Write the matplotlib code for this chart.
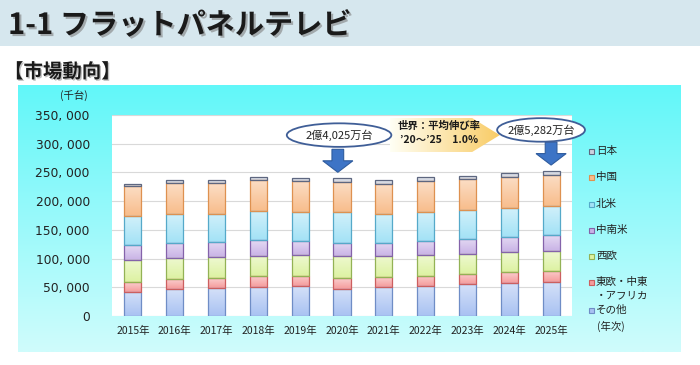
import numpy as np
import matplotlib
matplotlib.use('Agg')
import matplotlib.pyplot as plt
import matplotlib.patheffects as pe
from matplotlib.patches import Rectangle, Ellipse, FancyArrow, Polygon
from matplotlib.colors import to_rgb

plt.rcParams['font.family'] = ['Noto Sans CJK JP', 'DejaVu Sans']

# data (千台), stacked bottom -> top
years = ['2015年', '2016年', '2017年', '2018年', '2019年', '2020年',
         '2021年', '2022年', '2023年', '2024年', '2025年']
sonota = [42200, 46800, 48600, 50900, 51400, 47400, 50300, 52000, 54900, 57200, 58400]
touou = [16800, 16800, 17300, 17900, 18500, 17900, 17300, 18500, 18500, 19100, 20800]
seiou = [38700, 37600, 36400, 35800, 35900, 39300, 37000, 35900, 34700, 34700, 34100]
chunanbei = [26000, 26500, 26600, 27800, 24800, 23100, 23100, 24800, 26600, 27200, 27700]
hokubei = [49700, 49800, 49100, 49600, 49700, 52600, 49800, 50300, 49700, 49100, 49800]
chugoku = [52600, 54300, 53200, 55000, 54400, 53200, 53100, 53800, 53800, 55500, 54900]
nihon = [4600, 5800, 5200, 5200, 5800, 6750, 5800, 6300, 6300, 5800, 7100]

series = [
    ('その他', sonota, '#A9C2F2', '#6F8DC6'),
    ('東欧・中東\n・アフリカ', touou, '#F59C9C', '#CC5F5F'),
    ('西欧', seiou, '#DDF2A2', '#93B255'),
    ('中南米', chunanbei, '#C9B3E6', '#8463AA'),
    ('北米', hokubei, '#A3E2F6', '#55A9C9'),
    ('中国', chugoku, '#F8BD8C', '#DE9150'),
    ('日本', nihon, '#CDD2DE', '#5E6780'),
]

callouts = [(5, '2億4,025万台'), (10, '2億5,282万台')]

W, H = 700, 365
fig = plt.figure(figsize=(7, 3.65), dpi=100)

def fr(x0, y0, x1, y1):
    return [x0 / W, 1 - y1 / H, (x1 - x0) / W, (y1 - y0) / H]

# background layer
bg = fig.add_axes([0, 0, 1, 1], zorder=0)
bg.set_xlim(0, W)
bg.set_ylim(H, 0)
bg.axis('off')
bg.add_patch(Rectangle((0, 0), W, 46, color='#D6E7EE', lw=0))
grad = np.linspace(0, 1, 64)[:, None, None]
top = np.array(to_rgb('#62F7F9'))
bot = np.array(to_rgb('#CFFCFC'))
bg.imshow(top * (1 - grad) + bot * grad, extent=[18, 681, 352, 85],
          aspect='auto', interpolation='bilinear')
bg.set_xlim(0, W)
bg.set_ylim(H, 0)
bg.text(8, 25, '1-1 フラットパネルテレビ', fontsize=21, fontweight='bold',
        color='#1A1A1A', va='center', ha='left',
        path_effects=[pe.withSimplePatchShadow(offset=(1.5, -1.5),
                                               shadow_rgbFace='#808080', alpha=0.6)])
bg.text(4, 72, '【市場動向】', fontsize=14, fontweight='bold', color='#1A1A1A',
        va='center', ha='left',
        path_effects=[pe.withSimplePatchShadow(offset=(1, -1),
                                               shadow_rgbFace='#808080', alpha=0.5)])
bg.text(74, 96, '(千台)', fontsize=7.5, ha='center', va='center', color='#222222')
bg.text(611, 326, '(年次)', fontsize=7.5, ha='center', va='center', color='#222222')

# chart
ax = fig.add_axes(fr(112, 115, 572, 316), zorder=1)
x = np.arange(len(years))
bottom = np.zeros(len(years))
for name, vals, fc, ec in series:
    bars = ax.bar(x, vals, width=0.41, bottom=bottom, facecolor='none',
                  edgecolor=ec, linewidth=0.9, zorder=3)
    c = np.array(to_rgb(fc))
    t = np.linspace(0, 1, 32)[:, None, None]
    img = c * (1 - 0.5 * t) + 0.5 * t
    for b in bars:
        im = ax.imshow(img, extent=[b.get_x(), b.get_x() + b.get_width(),
                                    b.get_y(), b.get_y() + b.get_height()],
                       origin='lower', aspect='auto', interpolation='bilinear', zorder=2)
        im.set_clip_path(b)
    bottom = bottom + np.array(vals)
totals = bottom

ax.set_xlim(-0.5, len(years) - 0.5)
ax.set_ylim(0, 350000)
ax.set_yticks(np.arange(0, 350001, 50000))
ax.set_yticklabels([f'{v:,}'.replace(',', ', ') for v in range(0, 350001, 50000)],
                   fontsize=8.8, family=['DejaVu Sans'], color='#222222')
ax.set_xticks(x)
ax.set_xticklabels(years, fontsize=7.5, color='#222222')
ax.tick_params(length=0)
ax.tick_params(axis='y', pad=16)
ax.tick_params(axis='x', pad=7)
ax.grid(axis='y', color='#D9D9D9', lw=0.8, zorder=0)
for s in ax.spines.values():
    s.set_visible(False)

# growth chevron
def ad(fx, fy):
    return (-0.5 + len(years) * fx, 350000 * fy)

pts = [ad(0.604, 0.985), ad(0.783, 0.985), ad(0.843, 0.900),
       ad(0.783, 0.816), ad(0.604, 0.816)]
chev = Polygon(pts, closed=True, facecolor='none', edgecolor='none')
ax.add_patch(chev)
g = np.linspace(0, 1, 64)[None, :, None]
c0 = np.array(to_rgb('#FFFFF4'))
c1 = np.array(to_rgb('#F9CC66'))
x0, y0 = ad(0.604, 0.816)
x1, y1 = ad(0.843, 0.985)
im = ax.imshow(c0 * (1 - g) + c1 * g, extent=[x0, x1, y0, y1], origin='lower',
               aspect='auto', interpolation='bilinear', zorder=4)
im.set_clip_path(chev)
ax.set_xlim(-0.5, len(years) - 0.5)
ax.set_ylim(0, 350000)
xm, _ = ad(0.712, 0)
ax.text(xm, 350000 * 0.948, '世界：平均伸び率', fontsize=7.5, fontweight='bold',
        ha='center', va='center', zorder=5, color='#1A1A1A')
ax.text(xm, 350000 * 0.878, '\u201920～\u201925　1.0%', fontsize=7.5, fontweight='bold',
        ha='center', va='center', zorder=5, color='#1A1A1A')

# callouts
for (i, label), (ex, ey, ew) in zip(callouts, [(4.93, 315000, 2.5), (9.76, 324000, 2.1)]):
    tip = totals[i] + 10000
    ax.add_patch(FancyArrow(i - 0.1 if i == 5 else i, tip + 40000, 0, -40000, width=0.28,
                            head_width=0.72, head_length=20000,
                            length_includes_head=True, facecolor='#3D74C6',
                            edgecolor='#2F5C9E', lw=0.8, zorder=6, clip_on=False))
    ax.add_patch(Ellipse((ex, ey), ew, 41000, facecolor='white', edgecolor='#3F5E97',
                         lw=1.3, zorder=6, clip_on=False))
    ax.text(ex, ey, label, fontsize=8, ha='center', va='center', zorder=7,
            color='#222222')

# legend
ov = fig.add_axes([0, 0, 1, 1], zorder=2)
ov.set_xlim(0, W)
ov.set_ylim(H, 0)
ov.axis('off')
rows = [151, 177, 204, 230, 256, 282, 310]
for (name, vals, fc, ec), yy in zip(series[::-1], rows):
    ov.add_patch(Rectangle((588.5, yy - 2.5), 5, 5, facecolor=fc, edgecolor=ec, lw=0.8))
    lines = name.split('\n')
    for k, ln in enumerate(lines):
        ov.text(596, yy + 13 * k, ln, fontsize=7.6, ha='left', va='center',
                color='#222222')

fig.savefig('out.png', dpi=100)
